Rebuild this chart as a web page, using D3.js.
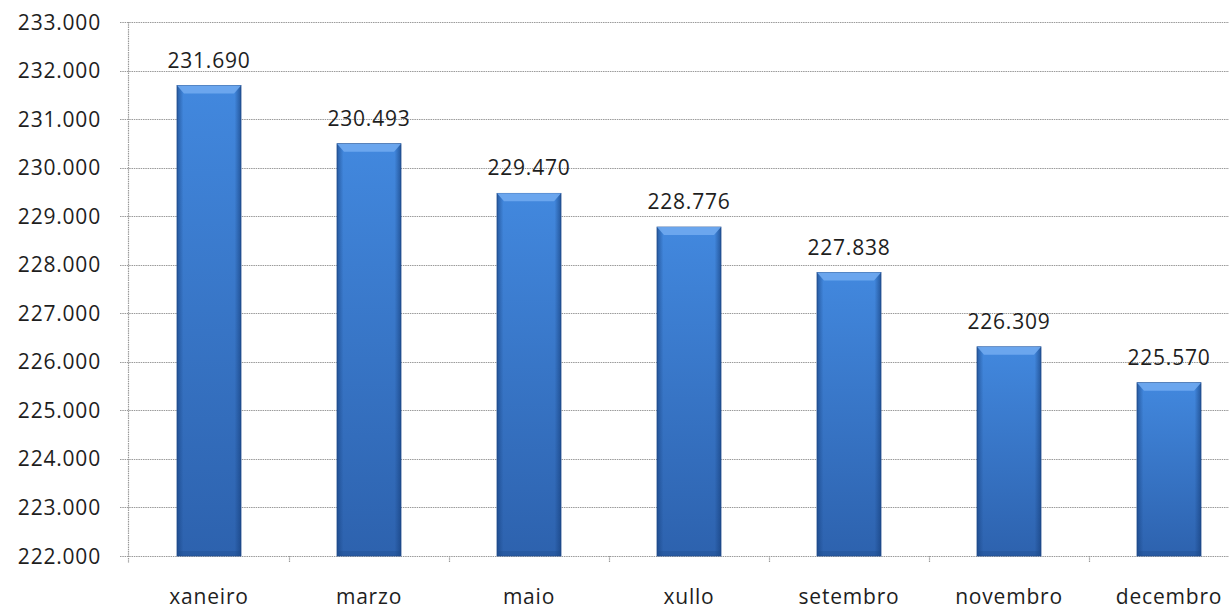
<!DOCTYPE html>
<html lang="gl">
<script src="https://d3js.org/d3.v7.min.js"></script>
<style>
    body {margin: 0; background: #fff;}
    text {font-family: "Open Sans", sans-serif; fill: #1e1e1e; font-size: 21px; letter-spacing: 0.8px;}
    .grid line {stroke: #9a9a9a; stroke-width: 1.2; stroke-dasharray: 1.5 0.8;}
</style>
<body>
    <svg width="1229" height="611"></svg>
</body>
<script>
    var months = ["xaneiro", "marzo", "maio", "xullo", "setembro", "novembro", "decembro"];
    var values = [231690, 230493, 229470, 228776, 227838, 226309, 225570];
    var yTicks = [222000, 223000, 224000, 225000, 226000, 227000, 228000, 229000, 230000, 231000, 232000, 233000];

    var svg = d3.select("svg");
    var fmtTick = function(v){ return (v / 1000).toFixed(3); };

    var x = d3.scaleBand().domain(months).range([129, 129 + 7 * 160]).paddingInner(0.6).paddingOuter(0.3);
    var y = d3.scaleLinear().domain([222000, 233000]).range([556, 22]);

    var defs = svg.append("defs");
    var g1 = defs.append("linearGradient").attr("id", "barFill").attr("x1", 0).attr("x2", 0).attr("y1", 0).attr("y2", 1);
    g1.append("stop").attr("offset", 0).attr("stop-color", "#4288de");
    g1.append("stop").attr("offset", 1).attr("stop-color", "#2d62ae");
    var g2 = defs.append("linearGradient").attr("id", "sideFill").attr("x1", 0).attr("x2", 1);
    g2.append("stop").attr("offset", 0).attr("stop-color", "#163f7c").attr("stop-opacity", 0.6);
    g2.append("stop").attr("offset", 0.1).attr("stop-color", "#163f7c").attr("stop-opacity", 0);
    g2.append("stop").attr("offset", 0.9).attr("stop-color", "#163f7c").attr("stop-opacity", 0);
    g2.append("stop").attr("offset", 1).attr("stop-color", "#163f7c").attr("stop-opacity", 0.65);

    // gridlines
    svg.append("g").attr("class", "grid").selectAll("line").data(yTicks).enter().append("line")
        .attr("x1", 120).attr("x2", 1229)
        .attr("y1", function(d){ return Math.round(y(d)) + 0.5; })
        .attr("y2", function(d){ return Math.round(y(d)) + 0.5; });

    // axis line + category ticks
    var axisG = svg.append("g").attr("class", "grid");
    axisG.append("line").attr("x1", 128.5).attr("x2", 128.5).attr("y1", y(233000)).attr("y2", y(222000) + 7);
    axisG.selectAll(".ct").data(months.slice(1)).enter().append("line")
        .attr("x1", function(d){ return Math.round(x(d) - x.step() * x.paddingInner() / 2) + 0.5; })
        .attr("x2", function(d){ return Math.round(x(d) - x.step() * x.paddingInner() / 2) + 0.5; })
        .attr("y1", y(222000)).attr("y2", y(222000) + 7);

    // y labels
    svg.append("g").selectAll("text").data(yTicks).enter().append("text")
        .attr("x", 101).attr("y", function(d){ return y(d); }).attr("dy", "0.36em")
        .attr("text-anchor", "end")
        .text(fmtTick);

    // bars
    var bw = x.bandwidth(), bev = 8, side = 7;
    var bars = svg.append("g").selectAll("g").data(months).enter().append("g");
    bars.append("rect")
        .attr("x", function(d){ return x(d); }).attr("width", bw)
        .attr("y", function(d, i){ return y(values[i]); })
        .attr("height", function(d, i){ return y(222000) - y(values[i]); })
        .attr("fill", "url(#barFill)").attr("stroke", "#234f8f").attr("stroke-width", 0.8);
    bars.append("rect")
        .attr("x", function(d){ return x(d); }).attr("width", bw)
        .attr("y", function(d, i){ return y(values[i]); })
        .attr("height", function(d, i){ return y(222000) - y(values[i]); })
        .attr("fill", "url(#sideFill)");
    bars.append("path")
        .attr("d", function(d, i){
            var x0 = x(d), t = y(values[i]);
            return "M" + x0 + "," + t + "H" + (x0 + bw) + "L" + (x0 + bw - side) + "," + (t + bev) + "H" + (x0 + side) + "Z";
        })
        .attr("fill", "#70aaf0").attr("opacity", 0.9);
    bars.append("rect")
        .attr("x", function(d){ return x(d) + 1; }).attr("width", bw - 2)
        .attr("y", y(222000) - 5).attr("height", 5)
        .attr("fill", "#1f4c8c").attr("opacity", 0.35);

    // value labels
    svg.append("g").selectAll("text").data(months).enter().append("text")
        .attr("x", function(d){ return x(d) + bw / 2; })
        .attr("y", function(d, i){ return y(values[i]) - 18; })
        .attr("text-anchor", "middle")
        .text(function(d, i){ return fmtTick(values[i]); });

    // x labels
    svg.append("g").selectAll("text").data(months).enter().append("text")
        .attr("x", function(d){ return x(d) + bw / 2; })
        .attr("y", 604)
        .attr("text-anchor", "middle")
        .text(function(d){ return d; });
</script>
</html>
